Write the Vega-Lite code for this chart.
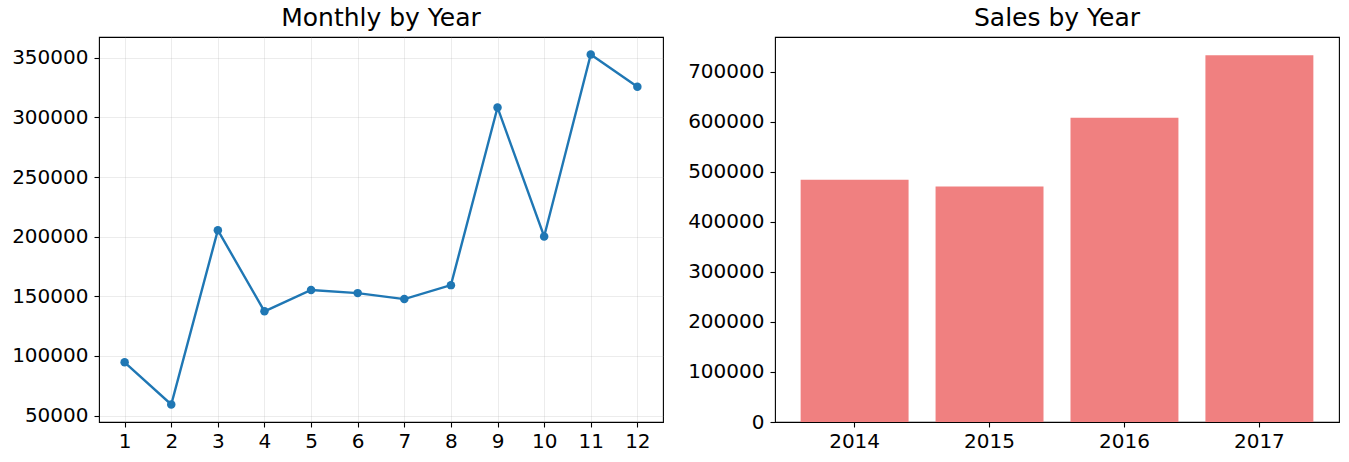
{
  "$schema": "https://vega.github.io/schema/vega-lite/v6.json",
  "background": "white",
  "padding": {"left": 11, "top": 5, "right": 10, "bottom": 5},
  "datasets": {
    "monthly": [
      {"month": 1, "sales": 94700},
      {"month": 2, "sales": 59300},
      {"month": 3, "sales": 205500},
      {"month": 4, "sales": 137400},
      {"month": 5, "sales": 155300},
      {"month": 6, "sales": 152700},
      {"month": 7, "sales": 147700},
      {"month": 8, "sales": 159400},
      {"month": 9, "sales": 308400},
      {"month": 10, "sales": 200200},
      {"month": 11, "sales": 352800},
      {"month": 12, "sales": 325700}
    ],
    "yearly": [
      {"year": "2014", "sales": 483700},
      {"year": "2015", "sales": 470300},
      {"year": "2016", "sales": 607700},
      {"year": "2017", "sales": 732500}
    ]
  },
  "config": {
    "font": "DejaVu Sans",
    "view": {"stroke": "black", "strokeWidth": 1.1},
    "title": {"font": "DejaVu Sans", "fontSize": 25, "fontWeight": "normal", "color": "black", "anchor": "middle", "offset": 6},
    "axis": {
      "labelFont": "DejaVu Sans",
      "labelFontSize": 20,
      "labelColor": "black",
      "tickColor": "black",
      "tickSize": 5,
      "tickWidth": 1.1,
      "labelPadding": 6,
      "domain": false,
      "title": null,
      "gridColor": "#b0b0b0",
      "gridOpacity": 0.3,
      "gridWidth": 0.8
    },
    "axisX": {"labelPadding": 4}
  },
  "hconcat": [
    {
      "title": "Monthly by Year",
      "width": 564,
      "height": 385,
      "data": {"name": "monthly"},
      "mark": {"type": "line", "color": "#1f77b4", "strokeWidth": 2.4, "point": {"filled": true, "size": 72, "color": "#1f77b4", "opacity": 1}},
      "encoding": {
        "x": {
          "field": "month", "type": "quantitative",
          "scale": {"domain": [0.45, 12.55], "nice": false, "zero": false},
          "axis": {"values": [1,2,3,4,5,6,7,8,9,10,11,12], "format": "d", "grid": true, "labelFlush": false}
        },
        "y": {
          "field": "sales", "type": "quantitative",
          "scale": {"domain": [44625, 367475], "nice": false, "zero": false},
          "axis": {"values": [50000,100000,150000,200000,250000,300000,350000], "format": "d", "grid": true, "labelFlush": false}
        }
      }
    },
    {
      "title": "Sales by Year",
      "width": 564,
      "height": 385,
      "data": {"name": "yearly"},
      "mark": {"type": "bar", "color": "#F08080"},
      "encoding": {
        "x": {
          "field": "year", "type": "ordinal",
          "scale": {"paddingInner": 0.2, "paddingOuter": 0.19},
          "axis": {"labelAngle": 0, "grid": false}
        },
        "y": {
          "field": "sales", "type": "quantitative",
          "scale": {"domain": [0, 769125], "nice": false},
          "axis": {"values": [0,100000,200000,300000,400000,500000,600000,700000], "format": "d", "grid": false, "labelFlush": false}
        }
      }
    }
  ],
  "spacing": 112,
  "bounds": "flush"
}
